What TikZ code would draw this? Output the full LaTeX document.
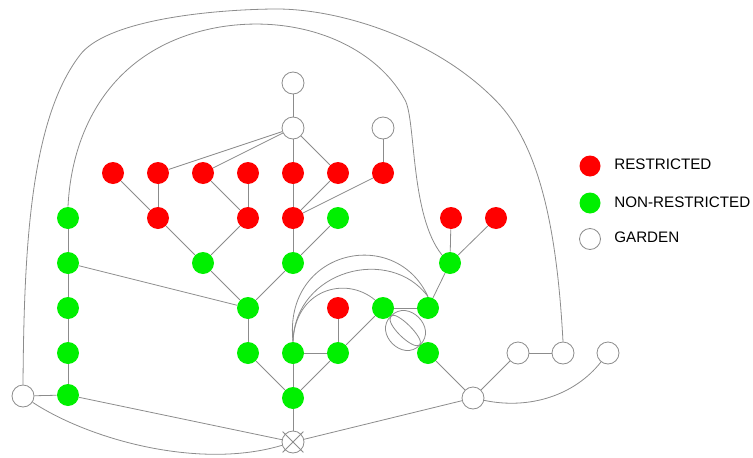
\documentclass[tikz,border=0pt]{standalone}
\usepackage{fontspec}
\setmainfont{Liberation Sans}
\usetikzlibrary{positioning,shapes.misc}
\definecolor{restr}{RGB}{255,0,0}
\definecolor{nonrestr}{RGB}{0,240,0}
\definecolor{linegray}{RGB}{140,140,140}
\begin{document}
\begin{tikzpicture}[x=1pt,y=-1pt,line width=0.8pt,
spot/.style={circle,minimum size=22pt,inner sep=0pt},
rnode/.style={spot,fill=restr},
nnode/.style={spot,fill=nonrestr},
gnode/.style={spot,draw=linegray,fill=white},
conn/.style={draw=linegray},
legtext/.style={inner sep=0pt,font=\fontsize{15.2}{18}\selectfont}]
\useasboundingbox (0,0) rectangle (753,458);
\foreach \nm/\x/\y in {g1/293/83,g2/293/128,g3/383/128,g4/23/396,g5/473/398,g6/518/353,g7/563/353,g8/608/353,x/293/442}
\node[gnode](\nm) at (\x,\y){};
\node[draw=linegray,cross out,minimum size=20pt,inner sep=0pt](xc) at (x){};
\foreach \nm/\x/\y in {r1/113/173,r2/158/173,r3/203/173,r4/248/173,r5/293/173,r6/338/173,r7/383/173,r8/158/218,r9/248/218,r10/293/218,r11/451/218,r12/496/218,r13/338/308}
\node[rnode](\nm) at (\x,\y){};
\foreach \nm/\x/\y in {n1/68/218,n2/68/263,n3/68/308,n4/68/353,n5/68/395,n6/203/263,n7/293/263,n8/338/218,n9/248/308,n10/248/353,n11/293/353,n12/338/353,n13/293/398,n14/383/308,n15/428/308,n16/428/353,n17/450/263}
\node[nnode](\nm) at (\x,\y){};
\foreach \a/\b in {g1/g2,g2/r2,g2/r3,g2/r5,g2/r6,g3/r7,r1/r8,r2/r8,r3/r9,r4/r9,r5/r10,r6/r10,r7/r10,r8/n6,r9/n6,r10/n7,n8/n7,n6/n9,n7/n9,n2/n9,n9/n10,n10/n13,n11/n13,n12/n13,n11/n12,r13/n12,n12/n14,n14/n15,n15/n17,r11/n17,r12/n17,n1/n2,n2/n3,n3/n4,n4/n5,g4/n5,n5/x,n13/x,g5/x,n16/g5,g5/g6,g6/g7}
\draw[conn](\a)--(\b);
\draw[conn](g4.north) .. controls (24,250) and (30,120) .. (80,55) .. controls (105,22) and (200,10) .. (273,9) .. controls (340,8) and (440,40) .. (500,105) .. controls (540,150) and (557,230) .. (g7.north);
\draw[conn](n1.north) .. controls (72,125) and (115,45) .. (220,27) .. controls (300,14) and (375,45) .. (405,100) .. controls (416,120) and (410,215) .. (n17.135);
\draw[conn](g4) .. controls (90,440) and (200,470) .. (x);
\draw[conn](g5) .. controls (530,410) and (575,395) .. (g8);
\draw[conn](n11.north) .. controls (295,290) and (345,275) .. (n14.135);
\draw[conn](n11.north) .. controls (295,270) and (390,245) .. (n15.north);
\draw[conn](n11.north) .. controls (283,250) and (395,225) .. (n15.north);
\draw[conn](n14.-45) .. controls (408,298) and (438,328) .. (n16.135);
\draw[conn](n14.-45) .. controls (373,333) and (403,363) .. (n16.135);
\draw[conn](n14.-45) .. controls (396,310) and (425,338) .. (n16.135);
\draw[conn](n14.-45) .. controls (384,323) and (413,351) .. (n16.135);
\node[rnode,minimum size=21pt](l1) at (590,166){};
\node[nnode,minimum size=21pt](l2) at (590,203){};
\node[gnode,minimum size=21pt](l3) at (590,239){};
\node[legtext,right=13pt of l1,yshift=2pt](t1){RESTRICTED};
\node[legtext,right=13pt of l2,yshift=1pt](t2){NON-RESTRICTED};
\node[legtext,right=13pt of l3,yshift=2pt](t3){GARDEN};
\end{tikzpicture}
\end{document}
